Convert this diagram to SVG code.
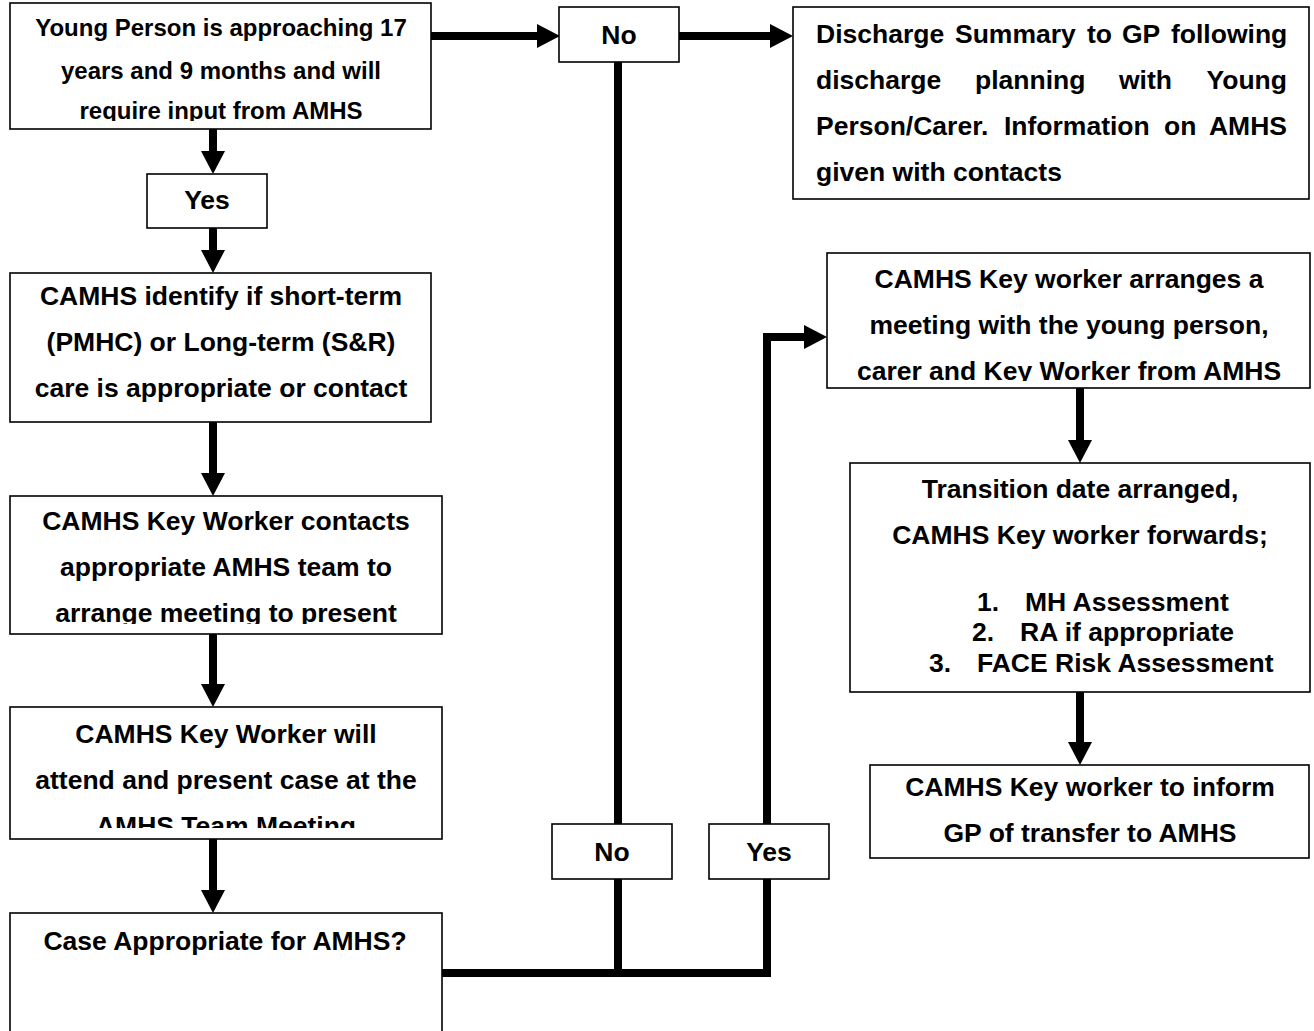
<svg xmlns="http://www.w3.org/2000/svg" width="1314" height="1031" viewBox="0 0 1314 1031">
  <style>
    .box { fill: #fff; stroke: #000; stroke-width: 1.6; }
    .t { font-family: "Liberation Sans", Arial, sans-serif; font-weight: bold; font-size: 26.5px; fill: #000; }
    .s { font-size: 24px; }
    .c { text-anchor: middle; }
    .e { text-anchor: end; }
    .wire { fill: none; stroke: #000; stroke-width: 8; stroke-linejoin: miter; stroke-linecap: butt; }
  </style>
  <defs>
    <marker id="head" viewBox="0 0 23 24" refX="0" refY="12" markerWidth="23" markerHeight="24" markerUnits="userSpaceOnUse" orient="auto">
      <path d="M0,0 L23,12 L0,24 z" fill="#000"/>
    </marker>
    <clipPath id="clip-start"><rect x="10" y="3" width="421" height="118"/></clipPath>
    <clipPath id="clip-contact"><rect x="10" y="496" width="432" height="128"/></clipPath>
    <clipPath id="clip-attend"><rect x="10" y="707" width="432" height="121"/></clipPath>
    <clipPath id="clip-meeting"><rect x="827" y="253" width="483" height="128"/></clipPath>
  </defs>

  <rect width="1314" height="1031" fill="#fff"/>

  <!-- connectors -->
  <g id="connectors">
    <path class="wire" d="M431,36 H537" marker-end="url(#head)"/>
    <path class="wire" d="M679,36 H770" marker-end="url(#head)"/>
    <path class="wire" d="M213,129 V151" marker-end="url(#head)"/>
    <path class="wire" d="M213,228 V250" marker-end="url(#head)"/>
    <path class="wire" d="M213,422 V473" marker-end="url(#head)"/>
    <path class="wire" d="M213,634 V684" marker-end="url(#head)"/>
    <path class="wire" d="M213,839 V890" marker-end="url(#head)"/>
    <path class="wire" d="M618,62 V973"/>
    <path class="wire" d="M442,973 H767 V337 H804" marker-end="url(#head)"/>
    <path class="wire" d="M1080,388 V440" marker-end="url(#head)"/>
    <path class="wire" d="M1080,692 V742" marker-end="url(#head)"/>
  </g>

  <!-- left column -->
  <g id="node-approaching">
    <rect class="box" x="10" y="3" width="421" height="126"/>
    <g clip-path="url(#clip-start)">
      <text class="t s c" x="221" y="36">Young Person is approaching 17</text>
      <text class="t s c" x="221" y="79">years and 9 months and will</text>
      <text class="t s c" x="221" y="119">require input from AMHS</text>
    </g>
  </g>

  <g id="node-yes-top">
    <rect class="box" x="147" y="174" width="120" height="54"/>
    <text class="t c" x="207" y="209">Yes</text>
  </g>

  <g id="node-identify">
    <rect class="box" x="10" y="273" width="421" height="149"/>
    <text class="t c" x="221" y="305">CAMHS identify if short-term</text>
    <text class="t c" x="221" y="351">(PMHC) or Long-term (S&amp;R)</text>
    <text class="t c" x="221" y="397">care is appropriate or contact</text>
  </g>

  <g id="node-contacts">
    <rect class="box" x="10" y="496" width="432" height="138"/>
    <g clip-path="url(#clip-contact)">
      <text class="t c" x="226" y="530">CAMHS Key Worker contacts</text>
      <text class="t c" x="226" y="576">appropriate AMHS team to</text>
      <text class="t c" x="226" y="622">arrange meeting to present</text>
    </g>
  </g>

  <g id="node-attend">
    <rect class="box" x="10" y="707" width="432" height="132"/>
    <g clip-path="url(#clip-attend)">
      <text class="t c" x="226" y="743">CAMHS Key Worker will</text>
      <text class="t c" x="226" y="789">attend and present case at the</text>
      <text class="t c" x="226" y="835">AMHS Team Meeting</text>
    </g>
  </g>

  <g id="node-appropriate">
    <rect class="box" x="10" y="913" width="432" height="130"/>
    <text class="t c" x="225" y="950">Case Appropriate for AMHS?</text>
  </g>

  <!-- decision labels -->
  <g id="node-no-top">
    <rect class="box" x="559" y="7" width="120" height="55"/>
    <text class="t c" x="619" y="44">No</text>
  </g>

  <g id="node-no-bottom">
    <rect class="box" x="552" y="824" width="120" height="55"/>
    <text class="t c" x="612" y="861">No</text>
  </g>

  <g id="node-yes-bottom">
    <rect class="box" x="709" y="824" width="120" height="55"/>
    <text class="t c" x="769" y="861">Yes</text>
  </g>

  <!-- right column -->
  <g id="node-discharge">
    <rect class="box" x="793" y="7" width="516" height="192"/>
    <text class="t" y="43"><tspan x="816">Discharge</tspan><tspan x="955">Summary</tspan><tspan x="1087">to</tspan><tspan x="1122">GP</tspan><tspan x="1171">following</tspan></text>
    <text class="t" y="89"><tspan x="816">discharge</tspan><tspan x="975">planning</tspan><tspan x="1119">with</tspan><tspan x="1287" text-anchor="end">Young</tspan></text>
    <text class="t" y="135"><tspan x="816">Person/Carer.</tspan><tspan x="1004">Information</tspan><tspan x="1164">on</tspan><tspan x="1287" text-anchor="end">AMHS</tspan></text>
    <text class="t" x="816" y="181">given with contacts</text>
  </g>

  <g id="node-arrange">
    <rect class="box" x="827" y="253" width="483" height="135"/>
    <g clip-path="url(#clip-meeting)">
      <text class="t c" x="1069" y="288">CAMHS Key worker arranges a</text>
      <text class="t c" x="1069" y="334">meeting with the young person,</text>
      <text class="t c" x="1069" y="380">carer and Key Worker from AMHS</text>
    </g>
  </g>

  <g id="node-transition">
    <rect class="box" x="850" y="463" width="460" height="229"/>
    <text class="t c" x="1080" y="498">Transition date arranged,</text>
    <text class="t c" x="1080" y="544">CAMHS Key worker forwards;</text>
    <text class="t" x="977" y="611">1.</text>
    <text class="t" x="1025" y="611">MH Assessment</text>
    <text class="t" x="972" y="641">2.</text>
    <text class="t" x="1020" y="641">RA if appropriate</text>
    <text class="t" x="929" y="672">3.</text>
    <text class="t" x="977" y="672">FACE Risk Assessment</text>
  </g>

  <g id="node-inform">
    <rect class="box" x="870" y="765" width="439" height="93"/>
    <text class="t c" x="1090" y="796">CAMHS Key worker to inform</text>
    <text class="t c" x="1090" y="842">GP of transfer to AMHS</text>
  </g>
</svg>
